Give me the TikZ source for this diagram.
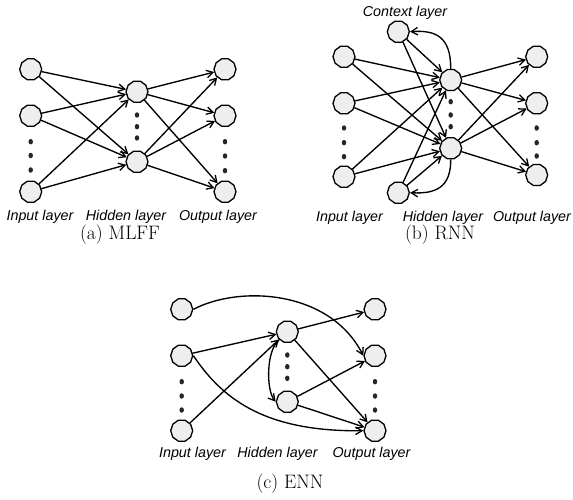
\documentclass[tikz,border=0pt]{standalone}
\usepackage{fontspec}
\newfontfamily\labfont{Liberation Sans}
\usetikzlibrary{shapes.geometric,arrows.meta}
\begin{document}
\begin{tikzpicture}[x=1pt,y=-1pt,
  neuron/.style={regular polygon,regular polygon sides=10,minimum size=22pt,inner sep=0pt,
    fill=gray!13,draw=black,line width=1.3pt},
  conn/.style={line width=1.35pt,-{Straight Barb[length=6.5pt,width=7.5pt,line width=1.3pt]}},
  dotm/.style={ellipse,fill=black!85,minimum width=4.5pt,minimum height=5.5pt,inner sep=0pt},
  lab/.style={font=\labfont\itshape\fontsize{14.3}{16}\selectfont,inner sep=0pt},
  capt/.style={font=\fontsize{19.5}{22}\selectfont,inner sep=0pt}]
\useasboundingbox (0,0) rectangle (573,500);
% ---------- (a) MLFF ----------
\node[neuron] (ai1) at (30.7,69.3) {};
\node[neuron] (ai2) at (30.7,115.7) {};
\node[neuron] (ai3) at (30.7,191.7) {};
\node[neuron] (ah1) at (137,91.7) {};
\node[neuron] (ah2) at (137,161.7) {};
\node[neuron] (ao1) at (225,69.3) {};
\node[neuron] (ao2) at (225,115.7) {};
\node[neuron] (ao3) at (225,191.7) {};
\foreach \y [count=\k] in {141.7,155.5,170}{\node[dotm] (aid\k) at (30.7,\y) {};}
\foreach \y [count=\k] in {115,126.7,138}{\node[dotm] (ahd\k) at (137,\y) {};}
\foreach \y [count=\k] in {141.7,156,170.7}{\node[dotm] (aod\k) at (225,\y) {};}
\foreach \i in {ai1,ai2,ai3}{\foreach \h in {ah1,ah2}{\draw[conn] (\i) -- (\h);}}
\foreach \h in {ah1,ah2}{\foreach \o in {ao1,ao2,ao3}{\draw[conn] (\h) -- (\o);}}
\node[lab] (al1) at (40,217) {Input layer};
\node[lab] (al2) at (126,217) {Hidden layer};
\node[lab] (al3) at (218,217) {Output layer};
\node[capt] (acap) at (120,235) {(a) MLFF};
% ---------- (b) RNN ----------
\node[neuron] (bc1) at (398.3,31.7) {};
\node[neuron] (bc2) at (398.3,192.7) {};
\node[neuron] (bi1) at (344,56.7) {};
\node[neuron] (bi2) at (344,103.3) {};
\node[neuron] (bi3) at (344,176.7) {};
\node[neuron] (bh1) at (450.7,80) {};
\node[neuron] (bh2) at (450.7,148.3) {};
\node[neuron] (bo1) at (536.7,56.7) {};
\node[neuron] (bo2) at (536.7,103.3) {};
\node[neuron] (bo3) at (536.7,175) {};
\foreach \y [count=\k] in {128,142.7,156.7}{\node[dotm] (bid\k) at (344,\y) {};}
\foreach \y [count=\k] in {101.7,115,126.7}{\node[dotm] (bhd\k) at (450.7,\y) {};}
\foreach \y [count=\k] in {128,142.7,156}{\node[dotm] (bod\k) at (536.7,\y) {};}
\foreach \i in {bi1,bi2,bi3,bc1,bc2}{\foreach \h in {bh1,bh2}{\draw[conn] (\i) -- (\h);}}
\foreach \h in {bh1,bh2}{\foreach \o in {bo1,bo2,bo3}{\draw[conn] (\h) -- (\o);}}
\draw[conn] (bh1.north) .. controls (451,36) and (435,30) .. (bc1.east);
\draw[conn] (bh2.south) .. controls (451,188) and (435,194) .. (bc2.east);
\node[lab] (bl0) at (405,13.3) {Context layer};
\node[lab] (bl1) at (349.5,218) {Input layer};
\node[lab] (bl2) at (443,218) {Hidden layer};
\node[lab] (bl3) at (532,218) {Output layer};
\node[capt] (bcap) at (440,235) {(b) RNN};
% ---------- (c) ENN ----------
\node[neuron] (ci1) at (181.7,309.3) {};
\node[neuron] (ci2) at (181.7,355.7) {};
\node[neuron] (ci3) at (181.7,430.7) {};
\node[neuron] (ch1) at (287.3,331.7) {};
\node[neuron] (ch2) at (287.3,401.7) {};
\node[neuron] (co1) at (375,309.3) {};
\node[neuron] (co2) at (375,355.7) {};
\node[neuron] (co3) at (375,430.7) {};
\foreach \y [count=\k] in {381.7,396,410}{\node[dotm] (cid\k) at (181.7,\y) {};}
\foreach \y [count=\k] in {355,366.7,378.3}{\node[dotm] (chd\k) at (287.3,\y) {};}
\foreach \y [count=\k] in {381.7,396,410}{\node[dotm] (cod\k) at (375,\y) {};}
\draw[conn] (ci2) -- (ch1);
\draw[conn] (ci3) -- (ch1);
\draw[conn] (ch1) -- (co1);
\draw[conn] (ch1) -- (co3);
\draw[conn] (ch2) -- (co2);
\draw[conn] (ch2) -- (co3);
\draw[conn] (ci1.east) .. controls (240,285) and (330,290) .. (co2.west);
\draw[conn] (ci2.east) .. controls (220,395) and (260,432) .. (co3.west);
\draw[conn] (ch1.south west) .. controls (266,350) and (266,390) .. (ch2.west);
\node[lab] (cl1) at (192.5,453.3) {Input layer};
\node[lab] (cl2) at (277.5,453.3) {Hidden layer};
\node[lab] (cl3) at (371.5,453.3) {Output layer};
\node[capt] (ccap) at (290,484) {(c) ENN};
\end{tikzpicture}
\end{document}
